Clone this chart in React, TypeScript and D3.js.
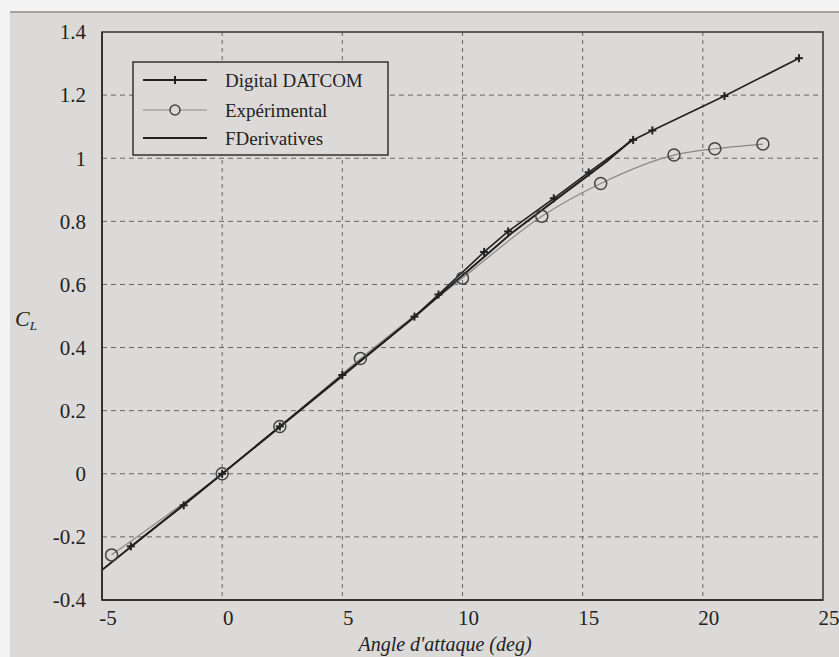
import React from "react";
import * as d3 from "d3";

const xTicks = [-5, 0, 5, 10, 15, 20, 25];
const yTicks = [-0.4, -0.2, 0, 0.2, 0.4, 0.6, 0.8, 1, 1.2, 1.4];
const yTickLabels = ["-0.4", "-0.2", "0", "0.2", "0.4", "0.6", "0.8", "1", "1.2", "1.4"];

const datcomAlpha = [-3.8, -1.6, 0, 2.4, 5, 8, 9, 10.9, 11.9, 13.8, 15.25, 17.1, 17.9, 20.9, 24];
const datcomCL = [-0.23, -0.1, 0, 0.15, 0.313, 0.498, 0.568, 0.703, 0.768, 0.873, 0.955, 1.058, 1.088, 1.197, 1.317];

const expAlpha = [-4.6, 0, 2.4, 5.75, 10, 13.3, 15.75, 18.8, 20.5, 22.5];
const expCL = [-0.257, 0, 0.15, 0.365, 0.62, 0.816, 0.92, 1.01, 1.03, 1.045];

const fderAlpha = [-5, 0, 5, 8, 10, 12, 14, 16, 17.1];
const fderCL = [-0.305, 0, 0.31, 0.497, 0.628, 0.76, 0.876, 0.99, 1.062];

const legendLabels = ["Digital DATCOM", "Expérimental", "FDerivatives"];

const W = 839, H = 657;
const L = 102, R = 823, T = 32, B = 600;
const BG = "#dcdad9";

export default function App() {
  const x = d3.scaleLinear().domain([-5, 25]).range([L, R]);
  const y = d3.scaleLinear().domain([-0.4, 1.4]).range([B, T]);

  const datcom = datcomAlpha.map((a, i) => [a, datcomCL[i]] as [number, number]);
  const exp = expAlpha.map((a, i) => [a, expCL[i]] as [number, number]);
  const fder = fderAlpha.map((a, i) => [a, fderCL[i]] as [number, number]);

  const lineLin = d3.line<[number, number]>().x(d => x(d[0])).y(d => y(d[1]));
  const lineSmooth = d3.line<[number, number]>().x(d => x(d[0])).y(d => y(d[1])).curve(d3.curveMonotoneX);

  const font = "Liberation Serif, DejaVu Serif, serif";

  const plus = (cx: number, cy: number, k: string | number) => (
    <g key={k} stroke="#222" strokeWidth={2}>
      <line x1={cx - 4} x2={cx + 4} y1={cy} y2={cy} />
      <line x1={cx} x2={cx} y1={cy - 4} y2={cy + 4} />
    </g>
  );

  const legX = 133, legY = 62, legW = 255, legH = 93;
  const rows = [80, 110, 138];

  return (
    <svg width={W} height={H} style={{ position: "absolute", left: 0, top: 0 }} fontFamily={font}>
      <rect x={0} y={0} width={W} height={H} fill="#f3f3f3" />
      <rect x={10} y={12} width={W - 10} height={H - 12} fill={BG} />
      <line x1={10} x2={W} y1={12} y2={12} stroke="#8a8a8a" strokeWidth={1.5} />

      {/* grid */}
      <g stroke="#666" strokeWidth={1} strokeDasharray="5,4" fill="none">
        {yTicks.slice(1, -1).map((t, i) => (
          <line key={"gy" + i} x1={L} x2={R} y1={y(t)} y2={y(t)} />
        ))}
        {xTicks.slice(1, -1).map((t, i) => (
          <line key={"gx" + i} x1={x(t)} x2={x(t)} y1={T} y2={B} strokeDasharray="4,4" />
        ))}
      </g>

      {/* series */}
      <path d={lineSmooth(exp) || ""} fill="none" stroke="#888" strokeWidth={1.2} />
      <path d={lineLin(fder) || ""} fill="none" stroke="#222" strokeWidth={2} />
      <path d={lineLin(datcom) || ""} fill="none" stroke="#222" strokeWidth={1.6} />
      {datcom.map((d, i) => plus(x(d[0]), y(d[1]), "p" + i))}
      {exp.map((d, i) => (
        <circle key={"c" + i} cx={x(d[0])} cy={y(d[1])} r={6} fill="none" stroke="#444" strokeWidth={1.5} />
      ))}

      {/* frame */}
      <rect x={L} y={T} width={R - L} height={B - T} fill="none" stroke="#333" strokeWidth={1.5} />
      <line x1={L} x2={L} y1={T} y2={B} stroke="#333" strokeWidth={2} />
      <line x1={L} x2={R} y1={B} y2={B} stroke="#333" strokeWidth={2} />

      {/* y tick labels */}
      {yTicks.map((t, i) => (
        <text key={"yl" + i} x={86} y={y(t)} dy="0.35em" textAnchor="end" fontSize={21} fill="#222">
          {yTickLabels[i]}
        </text>
      ))}
      {/* x tick labels */}
      {xTicks.map((t, i) => (
        <text key={"xl" + i} x={x(t) + 6} y={625} textAnchor="middle" fontSize={21} fill="#222">
          {t}
        </text>
      ))}

      <text x={445} y={651} textAnchor="middle" fontSize={20} fontStyle="italic" fill="#222">
        Angle d'attaque (deg)
      </text>
      <text x={15} y={326} fontSize={22} fontStyle="italic" fill="#222">
        C<tspan fontSize={13} dy={4}>L</tspan>
      </text>

      {/* legend */}
      <rect x={legX} y={legY} width={legW} height={legH} fill={BG} stroke="#333" strokeWidth={1.5} />
      <line x1={143} x2={207} y1={rows[0]} y2={rows[0]} stroke="#222" strokeWidth={2.2} />
      {plus(175, rows[0], "lp")}
      <line x1={143} x2={207} y1={rows[1]} y2={rows[1]} stroke="#888" strokeWidth={1.2} />
      <circle cx={175} cy={rows[1]} r={5} fill={BG} stroke="#444" strokeWidth={1.5} />
      <line x1={143} x2={207} y1={rows[2]} y2={rows[2]} stroke="#222" strokeWidth={2.2} />
      {legendLabels.map((s, i) => (
        <text key={"lg" + i} x={225} y={rows[i]} dy="0.35em" fontSize={19} fill="#222">
          {s}
        </text>
      ))}
    </svg>
  );
}
